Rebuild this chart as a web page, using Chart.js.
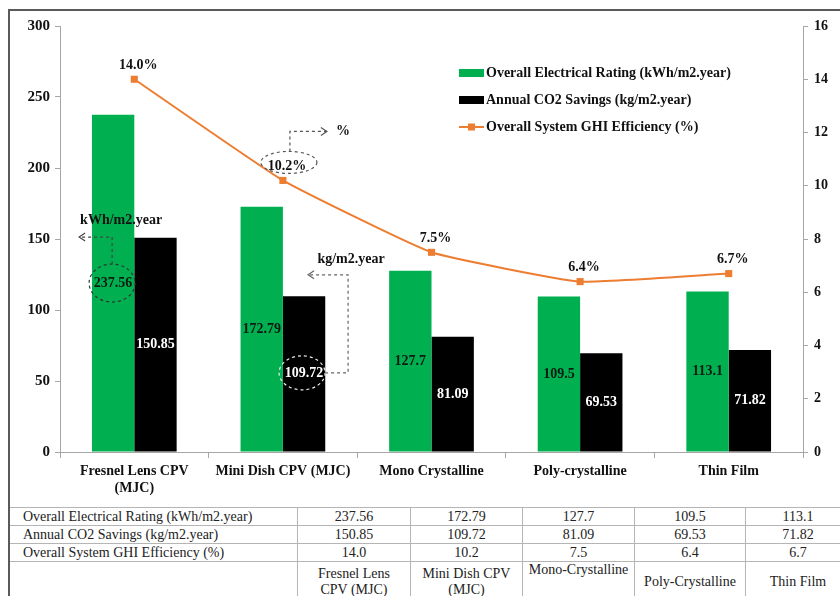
<!DOCTYPE html>
<html>
<head>
<meta charset="utf-8">
<script src="https://cdn.jsdelivr.net/npm/chart.js@4"></script>
<style>
    body { margin: 0; width: 840px; height: 596px; overflow: hidden; background: #fff; position: relative; }
    #chart { position: absolute; left: 0; top: 0; }
    #frame { position: absolute; left: 8px; top: 9px; width: 850px; height: 600px;
             border-left: 2px solid #5a5a5a; border-top: 2px solid #5a5a5a; pointer-events: none; }
    #dataTable { position: absolute; left: 8px; top: 507px; border-collapse: collapse; table-layout: fixed;
                 width: 842px; font: 14px 'Liberation Serif', serif; color: #222; }
    #dataTable td { border: 1px solid #b5b5b5; height: 17px; line-height: 17px; padding: 0; text-align: center; white-space: nowrap; }
    #dataTable td.label { text-align: left; padding-left: 14px; }
    #dataTable tr.names td { height: 40px; line-height: 16px; vertical-align: middle; }
</style>
</head>
<body>
<canvas id="chart" width="840" height="507"></canvas>
<table id="dataTable"></table>
<div id="frame"></div>
<script>
// chart data
const categories = [['Fresnel Lens CPV', '(MJC)'], 'Mini Dish CPV (MJC)', 'Mono Crystalline', 'Poly-crystalline', 'Thin Film'];
const tableCategories = [['Fresnel Lens', 'CPV (MJC)'], ['Mini Dish CPV', '(MJC)'], ['Mono-Crystalline'], ['Poly-Crystalline'], ['Thin Film']];
const seriesNames = ['Overall Electrical Rating (kWh/m2.year)', 'Annual CO2 Savings (kg/m2.year)', 'Overall System GHI Efficiency (%)'];
const electricalRating = [237.56, 172.79, 127.7, 109.5, 113.1];
const co2Savings = [150.85, 109.72, 81.09, 69.53, 71.82];
const ghiEfficiency = [14.0, 10.2, 7.5, 6.4, 6.7];
const leftTicks = [0, 50, 100, 150, 200, 250, 300];
const rightTicks = [0, 2, 4, 6, 8, 10, 12, 14, 16];

const GREEN = '#00b050';
const ORANGE = '#ed7d31';
const FONT = 'Liberation Serif';

Chart.defaults.font.family = FONT;
Chart.defaults.color = '#111';

function dashedEllipse(ctx, cx, cy, rx, ry, color) {
    ctx.save();
    ctx.strokeStyle = color;
    ctx.lineWidth = 1.2;
    ctx.setLineDash([3, 3]);
    ctx.beginPath();
    ctx.ellipse(cx, cy, rx, ry, 0, 0, Math.PI * 2);
    ctx.stroke();
    ctx.restore();
}

function dashedPath(ctx, pts, color) {
    ctx.save();
    ctx.strokeStyle = color;
    ctx.lineWidth = 1.2;
    ctx.setLineDash([3, 3]);
    ctx.beginPath();
    ctx.moveTo(pts[0][0], pts[0][1]);
    for (let i = 1; i < pts.length; i++) ctx.lineTo(pts[i][0], pts[i][1]);
    ctx.stroke();
    ctx.restore();
}

function arrowHead(ctx, x, y, dir, color) {
    ctx.save();
    ctx.strokeStyle = color;
    ctx.lineWidth = 1.2;
    ctx.beginPath();
    ctx.moveTo(x - dir * 6, y - 4);
    ctx.lineTo(x, y);
    ctx.lineTo(x - dir * 6, y + 4);
    ctx.stroke();
    ctx.restore();
}

function boldText(ctx, text, x, y, size, color, align) {
    ctx.save();
    ctx.font = 'bold ' + size + 'px ' + FONT;
    ctx.fillStyle = color;
    ctx.textAlign = align || 'center';
    ctx.textBaseline = 'middle';
    ctx.fillText(text, x, y);
    ctx.restore();
}

// value labels, callouts and the legend inside the plot
const overlay = {
    id: 'overlay',
    afterDatasetsDraw(chart) {
        const ctx = chart.ctx;
        const green = chart.getDatasetMeta(0).data;
        const black = chart.getDatasetMeta(1).data;
        const line = chart.getDatasetMeta(2).data;

        green.forEach((bar, i) => {
            boldText(ctx, String(electricalRating[i]), bar.x, (bar.y + bar.base) / 2, 14, '#0d1a12');
        });
        black.forEach((bar, i) => {
            boldText(ctx, String(co2Savings[i]), bar.x, (bar.y + bar.base) / 2, 14, '#fff');
        });
        line.forEach((pt, i) => {
            boldText(ctx, ghiEfficiency[i].toFixed(1) + '%', pt.x + 4, pt.y - 14, 14, '#111');
        });

        // kWh/m2.year callout
        let g = green[0];
        let cx = g.x - 1, cy = (g.y + g.base) / 2;
        dashedEllipse(ctx, cx, cy, 23, 19, '#2a3a30');
        dashedPath(ctx, [[cx, cy - 19], [cx, cy - 46], [cx - 33, cy - 46]], '#444');
        arrowHead(ctx, cx - 33, cy - 46, -1, '#444');
        boldText(ctx, 'kWh/m2.year', cx + 9, cy - 63, 14, '#111');

        // % callout
        let p = line[1];
        cx = p.x + 6; cy = p.y - 18;
        dashedEllipse(ctx, cx, cy, 28, 11, '#555');
        dashedPath(ctx, [[cx + 1, cy - 11], [cx + 1, cy - 31], [cx + 38, cy - 31]], '#555');
        arrowHead(ctx, cx + 38, cy - 31, 1, '#555');
        boldText(ctx, '%', cx + 54, cy - 31, 14, '#111');

        // kg/m2.year callout
        let b = black[1];
        cx = b.x - 2; cy = (b.y + b.base) / 2 - 1;
        dashedEllipse(ctx, cx, cy, 23, 17, '#eee');
        dashedPath(ctx, [[cx + 23, cy], [cx + 46, cy], [cx + 46, cy - 98], [cx + 6, cy - 98]], '#666');
        arrowHead(ctx, cx + 6, cy - 98, -1, '#666');
        boldText(ctx, 'kg/m2.year', cx + 49, cy - 113, 14, '#111');

        // legend
        ctx.save();
        ctx.fillStyle = GREEN;
        ctx.fillRect(459, 69, 25, 8);
        ctx.fillStyle = '#000';
        ctx.fillRect(459, 96, 25, 8);
        ctx.strokeStyle = ORANGE;
        ctx.lineWidth = 2;
        ctx.beginPath();
        ctx.moveTo(459, 127);
        ctx.lineTo(484, 127);
        ctx.stroke();
        ctx.fillStyle = ORANGE;
        ctx.fillRect(468, 123.5, 7, 7);
        ctx.restore();
        seriesNames.forEach((name, i) => {
            boldText(ctx, name, 486, 73 + i * 27, 14, '#111', 'left');
        });
    }
};

new Chart(document.getElementById('chart'), {
    type: 'bar',
    data: {
        labels: categories,
        datasets: [
            { label: seriesNames[0], data: electricalRating, backgroundColor: GREEN, yAxisID: 'y', order: 1,
              categoryPercentage: 0.57, barPercentage: 1.0, borderWidth: 0 },
            { label: seriesNames[1], data: co2Savings, backgroundColor: '#000', yAxisID: 'y', order: 1,
              categoryPercentage: 0.57, barPercentage: 1.0, borderWidth: 0 },
            { type: 'line', label: seriesNames[2], data: ghiEfficiency, yAxisID: 'y2', order: 0,
              borderColor: ORANGE, backgroundColor: ORANGE, borderWidth: 2, tension: 0.12,
              pointStyle: 'rect', pointRadius: 5, pointBorderWidth: 0 }
        ]
    },
    options: {
        responsive: false,
        animation: false,
        devicePixelRatio: 1,
        layout: { padding: { top: 26, left: 0, right: 0, bottom: 0 } },
        plugins: { legend: { display: false }, tooltip: { enabled: false } },
        scales: {
            x: {
                grid: { offset: true, drawOnChartArea: false, color: '#a6a6a6', tickLength: 6 },
                border: { color: '#a6a6a6' },
                ticks: { font: { size: 14, weight: 'bold' }, color: '#111', padding: 5, maxRotation: 0, autoSkip: false },
                afterFit: s => { s.height = 55; }
            },
            y: {
                position: 'left',
                min: leftTicks[0],
                max: leftTicks[leftTicks.length - 1],
                afterBuildTicks: s => { s.ticks = leftTicks.map(v => ({ value: v })); },
                grid: { drawOnChartArea: false, color: '#a6a6a6', tickLength: 5 },
                border: { color: '#a6a6a6' },
                ticks: { font: { size: 15, weight: 'bold' }, color: '#111', padding: 5 },
                afterFit: s => { s.width = 60; }
            },
            y2: {
                position: 'right',
                min: rightTicks[0],
                max: rightTicks[rightTicks.length - 1],
                afterBuildTicks: s => { s.ticks = rightTicks.map(v => ({ value: v })); },
                grid: { drawOnChartArea: false, color: '#a6a6a6', tickLength: 5 },
                border: { color: '#a6a6a6' },
                ticks: { font: { size: 14, weight: 'bold' }, color: '#111', padding: 6 },
                afterFit: s => { s.width = 37; }
            }
        }
    },
    plugins: [overlay]
});

// data table under the chart
function buildTable() {
    const table = document.getElementById('dataTable');
    const widths = [289, 113, 112, 112, 111, 105];
    let html = '<colgroup>' + widths.map(w => '<col style="width:' + w + 'px">').join('') + '</colgroup>';
    const rows = [
        electricalRating.map(v => String(v)),
        co2Savings.map(v => String(v)),
        ghiEfficiency.map(v => v.toFixed(1))
    ];
    rows.forEach((vals, r) => {
        html += '<tr><td class="label">' + seriesNames[r] + '</td>' + vals.map(v => '<td>' + v + '</td>').join('') + '</tr>';
    });
    html += '<tr class="names"><td></td>' + tableCategories.map((lines, i) => {
        const style = i === 2 ? ' style="vertical-align:top;padding-top:0"' : ' style="padding-bottom:4px"';
        return '<td' + style + '>' + lines.join('<br>') + '</td>';
    }).join('') + '</tr>';
    table.innerHTML = html;
}

buildTable();
</script>
</body>
</html>
